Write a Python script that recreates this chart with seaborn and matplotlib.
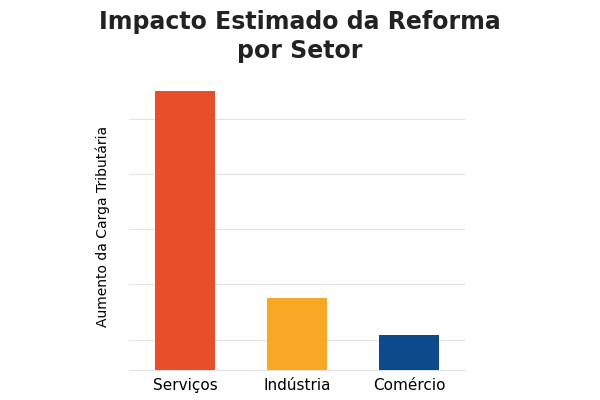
import matplotlib
matplotlib.use("Agg")
import matplotlib.pyplot as plt
import seaborn as sns
import pandas as pd

categories = ["Serviços", "Indústria", "Comércio"]
values = [5.05, 1.31, 0.64]
grid_ticks = [0.55, 1.55, 2.55, 3.55, 4.55]
colors = ["#E84E2A", "#F9A825", "#0D4A8C"]

df = pd.DataFrame({"cat": categories, "val": values})
fig = plt.figure(figsize=(6, 4), dpi=100)
ax = fig.add_axes([0.215, 0.075, 0.56, 0.72])
sns.barplot(data=df, x="cat", y="val", hue="cat", palette=colors, saturation=1, width=0.54, ax=ax, legend=False, zorder=3)
ax.set_ylim(0, 5.22)
ax.set_yticks(grid_ticks)
ax.set_yticklabels([])
ax.tick_params(axis="y", length=0)
ax.tick_params(axis="x", length=0, labelsize=11, pad=6)
ax.yaxis.grid(True, color="#e3e3e3", linewidth=0.8, zorder=0)
for s in ["top", "right", "left"]:
    ax.spines[s].set_visible(False)
ax.spines["bottom"].set_color("#e3e3e3")
ax.set_xlabel("")
ax.set_ylabel("Aumento da Carga Tributária", fontsize=10, labelpad=10)
fig.suptitle("Impacto Estimado da Reforma\npor Setor", fontsize=17, fontweight="bold", x=0.5, y=0.975, color="#222222", linespacing=1.25)
fig.savefig("out.png", dpi=100)
